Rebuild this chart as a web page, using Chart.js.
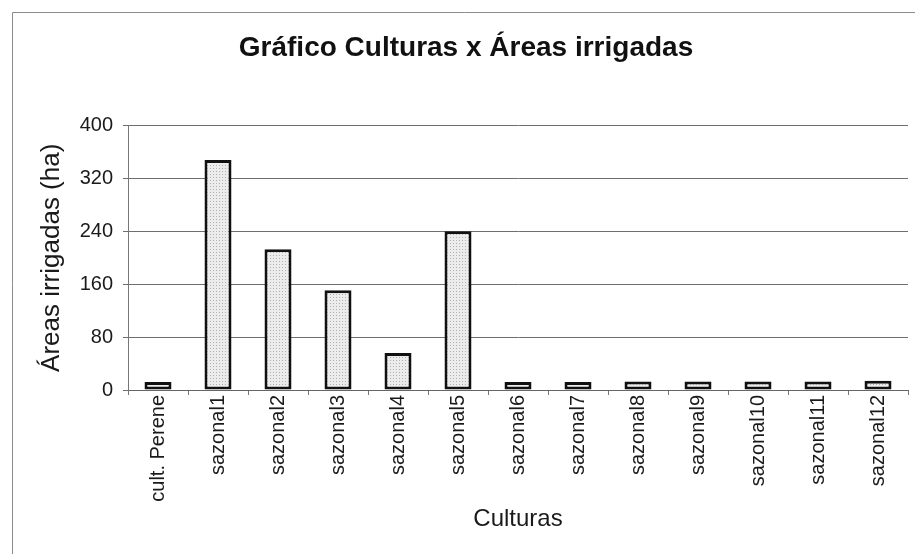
<!DOCTYPE html>
<html lang="pt-BR">
<head>
<meta charset="utf-8">
<title>Gráfico Culturas x Áreas irrigadas</title>
<script src="https://cdn.jsdelivr.net/npm/chart.js@4/dist/chart.umd.min.js"></script>
<style>
    body { margin: 0; background: #fff; }
    #caixaGrafico { width: 915px; height: 554px; position: relative; }
</style>
</head>
<body>
<div id="caixaGrafico">
    <canvas id="graficoCulturas"></canvas>
</div>
<script>
const culturas = ['cult. Perene', 'sazonal1', 'sazonal2', 'sazonal3', 'sazonal4', 'sazonal5', 'sazonal6',
    'sazonal7', 'sazonal8', 'sazonal9', 'sazonal10', 'sazonal11', 'sazonal12'];
const areasIrrigadas = [12, 348, 213, 151, 56, 240, 12, 12, 13, 13, 13, 13, 14];
const ticksEixoY = [0, 80, 160, 240, 320, 400];

const fonte = "'Liberation Sans', Arial, sans-serif";

// preenchimento pontilhado das barras
function criarPadrao() {
    let c = document.createElement('canvas');
    c.width = 3;
    c.height = 3;
    let ctx = c.getContext('2d');
    ctx.fillStyle = '#ececec';
    ctx.fillRect(0, 0, 3, 3);
    ctx.fillStyle = '#b0b0b0';
    ctx.fillRect(0, 0, 1, 1);
    return ctx.createPattern(c, 'repeat');
}

// moldura cinza em volta do gráfico
const moldura = {
    id: 'moldura',
    beforeDraw(chart) {
        let ctx = chart.ctx;
        ctx.save();
        ctx.strokeStyle = '#8c8c8c';
        ctx.lineWidth = 1;
        ctx.beginPath();
        ctx.moveTo(12.5, chart.height + 5);
        ctx.lineTo(12.5, 12.5);
        ctx.lineTo(chart.width + 5, 12.5);
        ctx.stroke();
        ctx.restore();
    }
};

const grafico = document.getElementById('graficoCulturas');

new Chart(grafico, {
    type: 'bar',
    data: {
        labels: culturas,
        datasets: [{
            label: 'Áreas irrigadas (ha)',
            data: areasIrrigadas,
            backgroundColor: criarPadrao(),
            borderColor: '#111',
            borderWidth: 3,
            borderSkipped: false,
            barPercentage: 0.45,
            categoryPercentage: 1
        }]
    },
    options: {
        responsive: true,
        maintainAspectRatio: false,
        animation: false,
        layout: {
            padding: { left: 24, right: 7, top: 0, bottom: 0 }
        },
        plugins: {
            legend: { display: false },
            tooltip: { enabled: false },
            title: {
                display: true,
                text: 'Gráfico Culturas x Áreas irrigadas',
                color: '#111',
                font: { family: fonte, size: 28, weight: 'bold' },
                padding: { top: 31, bottom: 61 }
            }
        },
        scales: {
            x: {
                offset: true,
                grid: {
                    offset: true,
                    drawOnChartArea: false,
                    color: '#777',
                    tickLength: 5
                },
                border: { color: '#666', width: 1 },
                ticks: {
                    minRotation: 90,
                    maxRotation: 90,
                    autoSkip: false,
                    padding: 0,
                    color: '#1a1a1a',
                    font: { family: fonte, size: 20 }
                },
                title: {
                    display: true,
                    text: 'Culturas',
                    color: '#1a1a1a',
                    font: { family: fonte, size: 24 },
                    padding: { top: 0, bottom: 20 }
                },
                afterFit(escala) {
                    escala.height = 164;
                }
            },
            y: {
                min: 0,
                max: 400,
                afterBuildTicks(escala) {
                    escala.ticks = ticksEixoY.map(v => ({ value: v }));
                },
                grid: {
                    color: '#6e6e6e',
                    lineWidth: 1,
                    tickLength: 5
                },
                border: { color: '#777', width: 1 },
                ticks: {
                    padding: 10,
                    color: '#1a1a1a',
                    font: { family: fonte, size: 20 }
                },
                title: {
                    display: true,
                    text: 'Áreas irrigadas (ha)',
                    color: '#1a1a1a',
                    font: { family: fonte, size: 26 },
                    padding: { top: 12, bottom: 0 }
                },
                afterFit(escala) {
                    escala.width = 104;
                }
            }
        }
    },
    plugins: [moldura]
});
</script>
</body>
</html>
